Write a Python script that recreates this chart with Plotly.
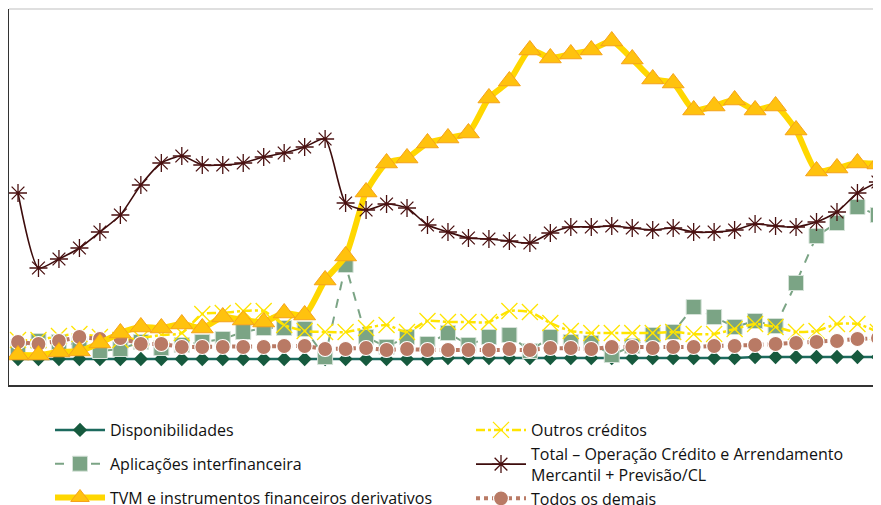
import plotly.graph_objects as go

periods = list(range(43))

disponibilidades = [26]*21 + [27]*15 + [28]*7
aplicacoes = [38, 44, 43, 40, 34, 36, 43, 37, 40, 43, 46, 53, 57, 57, 56, 28, 120, 48, 38, 48, 41,
              52, 40, 48, 50, 34, 48, 43, 42, 30, 39, 50, 53, 78, 68, 58, 64, 59, 102, 149, 162, 178, 170]
tvm = [30, 30, 33, 34, 42, 52, 58, 57, 61, 57, 68, 65, 63, 72, 70, 105, 129, 193, 222, 227, 242,
       247, 252, 287, 304, 335, 327, 331, 335, 344, 326, 306, 302, 275, 279, 285, 275, 279, 255, 214, 217, 222, 221]
outros = [45, 45, 49, 51, 48, 45, 47, 50, 52, 71, 72, 74, 74, 60, 54, 53, 53, 57, 60, 53, 64,
          63, 63, 63, 74, 73, 62, 54, 52, 52, 52, 52, 53, 51, 51, 56, 61, 58, 53, 54, 61, 61, 53]
total = [192, 117, 126, 137, 153, 170, 200, 222, 229, 220, 220, 222, 228, 232, 238, 246, 182, 175, 181, 177, 160,
         153, 147, 146, 144, 142, 152, 158, 158, 159, 157, 155, 157, 153, 153, 155, 161, 159, 158, 163, 173, 192, 203]
demais = [43, 41, 44, 48, 46, 47, 41, 41, 38, 38, 38, 38, 38, 39, 39, 36, 36, 37, 35, 36, 35,
          35, 35, 35, 36, 35, 37, 37, 36, 38, 38, 37, 38, 38, 39, 39, 40, 41, 42, 43, 44, 46, 47]

names = ["Disponibilidades", "Aplicações interfinanceira", "TVM e instrumentos financeiros derivativos",
         "Outros créditos", "Total – Operação Crédito e Arrendamento<br>Mercantil + Previsão/CL", "Todos os demais"]

FONT = "Open Sans"
FS = 16

fig = go.Figure()

fig.add_trace(go.Scatter(x=periods, y=disponibilidades, name=names[0], mode="lines+markers",
                         legend="legend", legendgroup="g1", legendrank=1,
                         line=dict(color="#1c6a5e", width=2.5),
                         marker=dict(symbol="diamond", size=11, color="#165a3e", line=dict(width=0))))
fig.add_trace(go.Scatter(x=periods, y=aplicacoes, name=names[1], mode="lines+markers",
                         legend="legend", legendgroup="g2", legendrank=2,
                         line=dict(color="#7ba485", width=2, dash="dash"),
                         marker=dict(symbol="square", size=15, color="#7ba485", line=dict(width=1, color="#d5e2d8"))))
fig.add_trace(go.Scatter(x=periods, y=outros, name=names[3], mode="lines+markers",
                         legend="legend2", legendrank=1,
                         line=dict(color="#ffe400", width=2.5, dash="dashdot", shape="spline", smoothing=0.6),
                         marker=dict(symbol="x-thin-open", size=16, color="#ffe400", line=dict(width=1.3, color="#ffe400"))))
fig.add_trace(go.Scatter(x=periods, y=demais, name=names[5], mode="lines+markers",
                         legend="legend2", legendrank=3,
                         line=dict(color="#b97a65", width=4, dash="dot"),
                         marker=dict(symbol="circle", size=15, color="#b97a65", line=dict(width=1.2, color="#ffffff"))))
fig.add_trace(go.Scatter(x=periods, y=tvm, name=names[2], mode="lines+markers",
                         legend="legend", legendgroup="g3", legendrank=3,
                         line=dict(color="#ffd700", width=6, shape="spline", smoothing=0.6),
                         marker=dict(symbol="triangle-up", size=19, color="#ffc20e", line=dict(width=1, color="#f5a21b"))))
fig.add_trace(go.Scatter(x=periods, y=total, name=names[4], mode="lines+markers",
                         legend="legend2", legendrank=2,
                         line=dict(color="#3d0c0c", width=1.6, shape="spline", smoothing=0.6),
                         marker=dict(symbol="asterisk-open", size=15, color="#4a1111", line=dict(width=1.3, color="#4a1111"))))

W, H = 873, 497
legend_common = dict(orientation="v", xref="container", yref="container", xanchor="left", yanchor="top",
                     itemwidth=50, font=dict(family=FONT, size=FS, color="#111111"),
                     bgcolor="rgba(0,0,0,0)", borderwidth=0)

fig.update_layout(
    width=W, height=H,
    margin=dict(l=1, r=0, t=1, b=120, autoexpand=False),
    paper_bgcolor="white", plot_bgcolor="white",
    font=dict(family=FONT, size=FS, color="#111111"),
    showlegend=True,
    legend=dict(x=42 / W, y=1 - 405 / H, tracegroupgap=10, traceorder="grouped", **legend_common),
    legend2=dict(x=463 / W, y=1 - 405 / H, tracegroupgap=0, traceorder="normal", **legend_common),
    xaxis=dict(range=[-0.44, 42.15], showgrid=False, zeroline=False, showticklabels=False, ticks="",
               showline=True, linecolor="#333333", linewidth=1.5),
    yaxis=dict(range=[0, 376], showgrid=False, zeroline=False, showticklabels=False, ticks="",
               showline=True, linecolor="#333333", linewidth=1.5),
    shapes=[dict(type="line", xref="paper", yref="paper", x0=0, x1=1, y0=1, y1=1,
                 line=dict(color="#d4d4d4", width=1.5))],
)

fig.write_html("out.html")
